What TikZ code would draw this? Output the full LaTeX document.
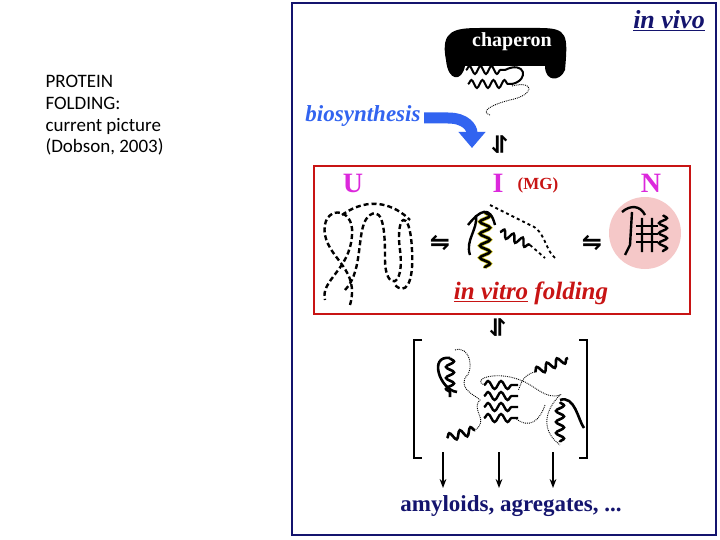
\documentclass[tikz,border=0pt]{standalone}
\usepackage{fontspec}
\setmainfont{Liberation Serif}
\newfontfamily\calib{Carlito}
\newfontfamily\djfont{DejaVu Sans}
\usetikzlibrary{decorations.pathmorphing,arrows.meta}
\definecolor{navy}{RGB}{20,20,110}
\definecolor{mag}{RGB}{220,40,220}
\definecolor{dred}{RGB}{200,20,20}
\definecolor{bblue}{RGB}{50,100,240}
\definecolor{pinkc}{RGB}{245,200,200}
\tikzset{
  sq/.style={line width=2.6pt,decorate,decoration={snake,amplitude=4pt,segment length=11pt}},
  dotl/.style={densely dotted,line width=0.9pt},
  dashl/.style={line width=2.4pt,dash pattern=on 5pt off 3pt},
  lbl/.style={font=\bfseries\fontsize{28}{28}\selectfont,text=mag},
  eqh/.style={font=\djfont\bfseries\fontsize{24}{24}\selectfont},
}
\begin{document}
\begin{tikzpicture}[x=1pt,y=-1pt]
\useasboundingbox (0,0) rectangle (720,540);
\fill[white] (0,0) rectangle (720,540);
\node[anchor=north west,align=left,font=\calib\fontsize{19}{21.7}\selectfont] (title) at (42,72) {PROTEIN\\FOLDING:\\current picture\\(Dobson, 2003)};
\draw[navy,line width=1.5pt] (292,3) rectangle (716,535);
\node[font=\bfseries\itshape\fontsize{26}{26}\selectfont,text=navy] (vivo) at (669,21) {\underline{in vivo}};
% chaperone
\fill[black] (446,60) .. controls (440,30) and (455,28) .. (480,28) -- (540,28) .. controls (568,28) and (568,35) .. (565,70) .. controls (560,82) and (545,82) .. (545,66) -- (465,66) .. controls (462,82) and (448,82) .. (446,60) -- cycle;
\node[font=\bfseries\fontsize{20}{20}\selectfont,text=white] (chap) at (512,42) {chaperon};
\draw[sq,line width=2pt] (466,70) -- (505,70);
\draw[sq,line width=2pt] (468,84) -- (512,84);
\draw[line width=2pt] (505,70) .. controls (525,60) and (530,80) .. (512,84);
\draw[dotl] (512,86) .. controls (535,80) and (535,95) .. (510,100) .. controls (490,105) and (480,112) .. (490,115);
% biosynthesis
\node[font=\bfseries\itshape\fontsize{23}{23}\selectfont,text=bblue] (bio) at (363,116) {biosynthesis};
\draw[bblue,line width=11pt,-{Triangle[length=16pt,width=26pt]}] (424,118) -- (448,118) .. controls (466,118) and (472,128) .. (472,148);
\node[eqh,rotate=-90] (eq1) at (500,145) {⇋};
% red box
\draw[dred,line width=1.2pt] (314,166) rectangle (690,314);
\node[lbl] (U) at (353,183) {U};
\node[lbl] (I) at (498,183) {I};
\node[font=\bfseries\fontsize{17}{17}\selectfont,text=dred] (mg) at (538,185) {(MG)};
\node[lbl] (N) at (651,183) {N};
% U chain
\draw[dashl] (350,305) .. controls (360,270) and (330,260) .. (325,235) .. controls (320,205) and (355,205) .. (352,235) .. controls (350,270) and (320,280) .. (325,300)
  (345,290) .. controls (365,270) and (355,225) .. (370,215) .. controls (385,205) and (385,240) .. (385,260) .. controls (385,290) and (405,290) .. (400,250) .. controls (395,215) and (410,205) .. (412,250) .. controls (414,285) and (405,295) .. (395,285)
  (342,215) .. controls (370,195) and (395,205) .. (410,220);
\node[eqh] (eq2) at (440,243) {⇋};
% I
\draw[yellow!80!black,line width=4pt,decorate,decoration={snake,amplitude=5pt,segment length=12pt}] (485,212) -- (485,268);
\draw[line width=2.6pt,decorate,decoration={snake,amplitude=5pt,segment length=12pt}] (485,212) -- (485,268);
\draw[line width=2.4pt] (470,255) .. controls (465,240) and (478,230) .. (476,215) (468,225) .. controls (480,210) and (490,205) .. (495,225);
\draw[line width=2.4pt,decorate,decoration={snake,amplitude=4pt,segment length=10pt}] (500,232) -- (530,245);
\draw[dashed,line width=1.8pt] (490,205) .. controls (510,215) and (520,220) .. (530,225) .. controls (545,230) and (545,250) .. (555,258);
\draw[dashed,line width=1.8pt] (530,245) -- (545,258);
\node[eqh] (eq3) at (592,243) {⇋};
% N
\fill[pinkc] (645,233) circle (36);
\draw[line width=2.4pt] (622,212) .. controls (630,205) and (640,205) .. (645,215) (632,212) -- (630,245) -- (625,255) (642,218) -- (642,252) (652,218) -- (652,252);
\draw[line width=2.4pt,decorate,decoration={snake,amplitude=4pt,segment length=10pt}] (663,215) -- (663,252);
\foreach \yy in {226,234,242} \draw[line width=2pt] (636,\yy) -- (658,\yy);
\node[font=\bfseries\itshape\fontsize{25}{25}\selectfont,text=dred] (vitro) at (531,293) {\underline{in vitro} folding};
\node[eqh,rotate=-90] (eq4) at (498,328) {⇋};
% brackets
\draw[line width=2pt] (422,340) -- (414,340) -- (414,458) -- (422,458);
\draw[line width=2pt] (579,340) -- (587,340) -- (587,458) -- (579,458);
% aggregate
\foreach \yy in {385,396,407,418} \draw[sq,line width=2.4pt,decoration={segment length=13pt}] (484,\yy) -- (518,\yy);
\draw[sq] (450,358) -- (450,397);
\draw[line width=2.6pt] (450,358) .. controls (428,355) and (440,390) .. (457,392);
\draw[sq] (447,438) -- (475,430);
\draw[sq] (535,372) -- (568,358);
\draw[sq] (560,402) -- (560,442);
\draw[line width=2.6pt] (560,400) .. controls (575,395) and (578,420) .. (584,428);
\draw[dotl] (455,350) .. controls (470,345) and (475,370) .. (465,378) .. controls (460,390) and (475,395) .. (480,400) .. controls (470,410) and (490,420) .. (475,430)
  (485,385) .. controls (470,380) and (495,370) .. (520,380) .. controls (535,385) and (545,400) .. (560,395) .. controls (545,410) and (540,430) .. (560,445)
  (515,418) .. controls (530,430) and (540,420) .. (545,405) (535,372) .. controls (520,375) and (520,390) .. (518,390);
% arrows
\coordinate (a1) at (443,452); \coordinate (a2) at (499,452); \coordinate (a3) at (553,452);
\coordinate (b1) at (443,488); \coordinate (b2) at (499,488); \coordinate (b3) at (553,488);
\foreach \i in {1,2,3} \draw[line width=1.4pt,-{Stealth[length=9pt]}] (a\i) -- (b\i);
\node[font=\bfseries\fontsize{23}{23}\selectfont,text=navy] (amy) at (511,506) {amyloids, agregates, ...};
\end{tikzpicture}
\end{document}
